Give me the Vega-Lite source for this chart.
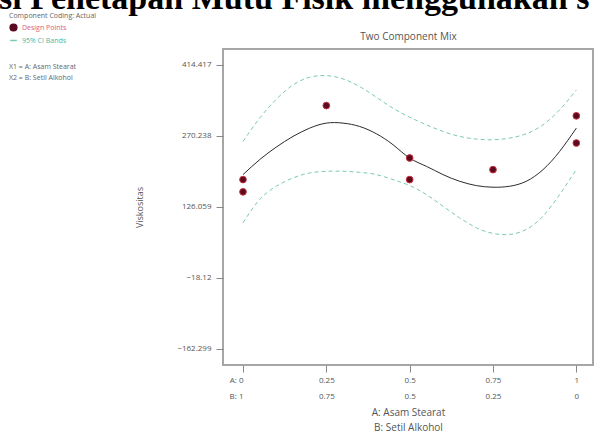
{
  "$schema": "https://vega.github.io/schema/vega-lite/v6.json",
  "width": 370,
  "height": 316,
  "autosize": {"type": "none"},
  "padding": {"left": 223, "top": 49, "right": 2, "bottom": 71},
  "background": "white",
  "config": {
    "view": {"stroke": "#a6a6a6", "strokeWidth": 2},
    "font": "Open Sans"
  },
  "title": {
    "text": "si Penetapan Mutu Fisik menggunakan s",
    "subtitle": ["\u2800\u2800X1 = A: Asam Stearat", "\u2800\u2800X2 = B: Setil Alkohol"],
    "anchor": "start",
    "frame": "group",
    "font": "Liberation Serif",
    "fontSize": 34,
    "fontWeight": "bold",
    "color": "#000000",
    "subtitleFont": "Open Sans",
    "subtitleFontSize": 7,
    "subtitleColor": "#666666",
    "subtitlePadding": 47,
    "subtitleLineHeight": 11,
    "offset": 0,
    "dx": -224,
    "dy": 69
  },
  "datasets": {
    "points": [
      {"x": 0, "y": 181.7},
      {"x": 0, "y": 156.8},
      {"x": 0.25, "y": 332.0},
      {"x": 0.5, "y": 225.6},
      {"x": 0.5, "y": 181.7},
      {"x": 0.75, "y": 201.9},
      {"x": 1, "y": 311.2},
      {"x": 1, "y": 256.0}
    ],
    "mean": [
      {"x": 0, "y": 191.8}, {"x": 0.05, "y": 222.2}, {"x": 0.1, "y": 247.8}, {"x": 0.15, "y": 269.4},
      {"x": 0.2, "y": 286.2}, {"x": 0.25, "y": 296.4}, {"x": 0.3, "y": 296.4}, {"x": 0.35, "y": 289.6},
      {"x": 0.4, "y": 274.8}, {"x": 0.45, "y": 252.5}, {"x": 0.5, "y": 225.5}, {"x": 0.55, "y": 208.7},
      {"x": 0.6, "y": 191.8}, {"x": 0.65, "y": 178.3}, {"x": 0.7, "y": 169.5}, {"x": 0.75, "y": 166.2},
      {"x": 0.8, "y": 168.2}, {"x": 0.85, "y": 178.3}, {"x": 0.9, "y": 201.9}, {"x": 0.95, "y": 239.0},
      {"x": 1, "y": 286.2}
    ],
    "bands": [
      {"band": "upper", "x": 0, "y": 259.3}, {"band": "upper", "x": 0.05, "y": 306.5}, {"band": "upper", "x": 0.1, "y": 344.9},
      {"band": "upper", "x": 0.15, "y": 373.9}, {"band": "upper", "x": 0.2, "y": 389.5}, {"band": "upper", "x": 0.25, "y": 392.8},
      {"band": "upper", "x": 0.3, "y": 386.1}, {"band": "upper", "x": 0.35, "y": 370.6}, {"band": "upper", "x": 0.4, "y": 349.0},
      {"band": "upper", "x": 0.45, "y": 326.7}, {"band": "upper", "x": 0.5, "y": 308.5}, {"band": "upper", "x": 0.55, "y": 293.0},
      {"band": "upper", "x": 0.6, "y": 279.5}, {"band": "upper", "x": 0.65, "y": 269.4}, {"band": "upper", "x": 0.7, "y": 264.0},
      {"band": "upper", "x": 0.75, "y": 262.6}, {"band": "upper", "x": 0.8, "y": 266.0}, {"band": "upper", "x": 0.85, "y": 274.8},
      {"band": "upper", "x": 0.9, "y": 293.0}, {"band": "upper", "x": 0.95, "y": 323.4}, {"band": "upper", "x": 1, "y": 363.8},
      {"band": "lower", "x": 0, "y": 94.0}, {"band": "lower", "x": 0.05, "y": 141.2}, {"band": "lower", "x": 0.1, "y": 168.2},
      {"band": "lower", "x": 0.15, "y": 185.1}, {"band": "lower", "x": 0.2, "y": 195.2}, {"band": "lower", "x": 0.25, "y": 198.6},
      {"band": "lower", "x": 0.3, "y": 198.6}, {"band": "lower", "x": 0.35, "y": 196.5}, {"band": "lower", "x": 0.4, "y": 191.8},
      {"band": "lower", "x": 0.45, "y": 181.7}, {"band": "lower", "x": 0.5, "y": 169.6}, {"band": "lower", "x": 0.55, "y": 151.4},
      {"band": "lower", "x": 0.6, "y": 127.7}, {"band": "lower", "x": 0.65, "y": 104.1}, {"band": "lower", "x": 0.7, "y": 83.9},
      {"band": "lower", "x": 0.75, "y": 72.4}, {"band": "lower", "x": 0.8, "y": 70.4}, {"band": "lower", "x": 0.85, "y": 80.5},
      {"band": "lower", "x": 0.9, "y": 107.5}, {"band": "lower", "x": 0.95, "y": 151.4}, {"band": "lower", "x": 1, "y": 201.9}
    ]
  },
  "layer": [
    {
      "data": {"name": "bands"},
      "mark": {"type": "line", "strokeDash": [4, 3], "strokeWidth": 1, "interpolate": "natural"},
      "encoding": {
        "x": {
          "field": "x", "type": "quantitative",
          "scale": {"domain": [-0.06, 1.05], "nice": false, "zero": false},
          "axis": {
            "orient": "bottom",
            "values": [0, 0.25, 0.5, 0.75, 1],
            "labelExpr": "datum.value == 0 ? ['A:  0', 'B:  1'] : datum.value == 0.25 ? ['0.25', '0.75'] : datum.value == 0.5 ? ['0.5', '0.5'] : datum.value == 0.75 ? ['0.75', '0.25'] : ['1', '0']",
            "labelAlign": {"condition": {"test": "datum.value == 0", "value": "right"}, "value": "center"},
            "labelFontSize": 8,
            "labelLineHeight": 16,
            "labelColor": "#555555",
            "labelPadding": 4,
            "labelFlush": false,
            "labelOverlap": false,
            "tickSize": 7,
            "tickColor": "#888888",
            "domain": false,
            "grid": false,
            "title": ["A: Asam Stearat", "B: Setil Alkohol"],
            "titleFontSize": 10,
            "titleFontWeight": "normal",
            "titleColor": "#555555",
            "titleLineHeight": 15,
            "titlePadding": 7
          }
        },
        "y": {
          "field": "y", "type": "quantitative",
          "scale": {"domain": [-194.8, 446.9], "nice": false, "zero": false},
          "axis": {
            "values": [414.417, 270.238, 126.059, -18.12, -162.299],
            "format": ".3~f",
            "labelFontSize": 8,
            "labelColor": "#555555",
            "labelPadding": 5,
            "tickSize": 7,
            "tickColor": "#888888",
            "domain": false,
            "grid": false,
            "title": "Viskositas",
            "titleFontSize": 9,
            "titleFontWeight": "normal",
            "titleColor": "#555555",
            "titlePadding": 32
          }
        },
        "detail": {"field": "band"},
        "color": {
          "datum": "95% CI Bands",
          "scale": {"domain": ["Design Points", "95% CI Bands"], "range": ["#5c0a1f", "#7cc9b4"]},
          "legend": {
            "orient": "none",
            "legendX": -214,
            "legendY": -37,
            "title": "Component Coding: Actual",
            "titleFontSize": 7,
            "titleFontWeight": "normal",
            "titleColor": "#666666",
            "titlePadding": 4,
            "labelFontSize": 7,
            "labelColor": {"expr": "datum.label == 'Design Points' ? '#d9607a' : '#3fb8aa'"},
            "symbolType": {"expr": "datum.label == 'Design Points' ? 'circle' : 'stroke'"},
            "symbolSize": 45,
            "rowPadding": 2
          }
        }
      }
    },
    {
      "data": {"name": "mean"},
      "mark": {"type": "line", "strokeWidth": 1, "interpolate": "natural", "color": "#2b2b2b"},
      "encoding": {
        "x": {
          "field": "x", "type": "quantitative",
          "axis": {
            "orient": "top",
            "labels": false,
            "ticks": false,
            "domain": false,
            "grid": false,
            "title": "Two Component Mix",
            "titleFontSize": 10,
            "titleFontWeight": "normal",
            "titleColor": "#555555",
            "titlePadding": 8
          }
        },
        "y": {"field": "y", "type": "quantitative"}
      }
    },
    {
      "data": {"name": "points"},
      "mark": {"type": "point", "filled": true, "shape": "circle", "size": 45, "stroke": "#c8303c", "strokeWidth": 1, "opacity": 1},
      "encoding": {
        "x": {"field": "x", "type": "quantitative", "axis": null},
        "y": {"field": "y", "type": "quantitative"},
        "color": {"datum": "Design Points"}
      }
    }
  ],
  "resolve": {"axis": {"x": "independent"}}
}
